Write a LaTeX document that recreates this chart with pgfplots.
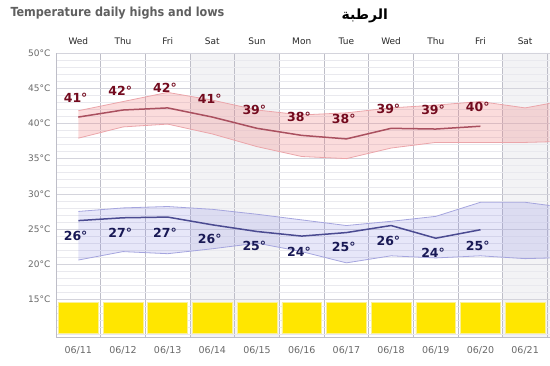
\documentclass[border=0pt]{standalone}
\usepackage{pgfplots}
\pgfplotsset{compat=1.18}
\usepgfplotslibrary{fillbetween}
\usepackage{fontspec}
\setmainfont{DejaVu Sans}
\newfontfamily\titlefont{DejaVu Sans Condensed}
\newfontfamily\arabicfont[Script=Arabic]{DejaVu Sans}
\TeXXeTstate=1
\definecolor{pinkedge}{RGB}{235,165,170}
\definecolor{pinkfill}{RGB}{240,120,120}
\definecolor{highline}{RGB}{170,80,95}
\definecolor{hightext}{RGB}{115,10,30}
\definecolor{blueedge}{RGB}{165,165,222}
\definecolor{bluefill}{RGB}{125,125,225}
\definecolor{lowline}{RGB}{75,75,145}
\definecolor{lowtext}{RGB}{25,25,85}
\definecolor{barY}{RGB}{255,230,0}
\definecolor{barEdge}{RGB}{250,240,150}
\definecolor{wkgray}{RGB}{243,243,245}
\definecolor{gridmaj}{RGB}{212,212,220}
\definecolor{gridmin}{RGB}{233,233,238}
\definecolor{sepgray}{RGB}{190,190,200}
\definecolor{labgray}{RGB}{105,105,105}
\definecolor{titlegray}{RGB}{95,95,95}
\definecolor{daytext}{RGB}{40,40,40}
\begin{document}
\begin{tikzpicture}
\begin{axis}[
  at={(0pt,0pt)}, anchor=south west,
  scale only axis, width=494pt, height=284pt,
  xmin=-0.5, xmax=10.55, ymin=9.7, ymax=50,
  axis x line=bottom, axis y line=left,
  axis line style={-, draw=sepgray},
  xtick={0,...,10},
  xticklabels={06/11,06/12,06/13,06/14,06/15,06/16,06/17,06/18,06/19,06/20,06/21},
  ytick={15,20,25,30,35,40,45,50},
  yticklabels={15°C,20°C,25°C,30°C,35°C,40°C,45°C,50°C},
  minor xtick={0.5,1.5,...,10.5}, xminorgrids, minor x grid style={sepgray, line width=0.6pt},
  minor ytick={10,...,50}, yminorgrids, minor y grid style={gridmin, line width=0.5pt},
  ymajorgrids, major y grid style={gridmaj, line width=0.6pt},
  major tick length=0pt, minor tick length=0pt,
  set layers=standard, clip mode=individual,
  /pgf/number format/assume math mode=true,
  xticklabel style={font=\fontsize{9.5}{10}\selectfont, text=labgray, yshift=-6pt},
  yticklabel style={font=\fontsize{9}{10}\selectfont, text=labgray, xshift=-2pt},
]
% weekend shading
\addplot[on layer=axis background, fill=wkgray, draw=none] coordinates {(2.5,9.7)(2.5,50)(4.5,50)(4.5,9.7)(2.5,9.7)};
\addplot[on layer=axis background, fill=wkgray, draw=none] coordinates {(9.5,9.7)(9.5,50)(10.6,50)(10.6,9.7)(9.5,9.7)};
% high band
\addplot[name path=pu, draw=pinkedge, line width=0.8pt] coordinates {(0,41.8)(1,43.1)(2,44.4)(3,43.3)(4,41.9)(5,41.2)(6,41.5)(7,42.2)(8,42.6)(9,43.1)(10,42.2)(10.6,42.9)};
\addplot[name path=pl, draw=pinkedge, line width=0.8pt] coordinates {(0,37.9)(1,39.5)(2,39.9)(3,38.5)(4,36.7)(5,35.3)(6,35.0)(7,36.5)(8,37.3)(9,37.3)(10,37.3)(10.6,37.4)};
\addplot[fill=pinkfill, fill opacity=0.26, draw=none] fill between[of=pu and pl];
\addplot[highline, line width=1.5pt] coordinates {(0,40.9)(1,41.9)(2,42.2)(3,40.9)(4,39.3)(5,38.3)(6,37.8)(7,39.3)(8,39.2)(9,39.6)};
% low band
\addplot[name path=bu, draw=blueedge, line width=0.8pt] coordinates {(0,27.5)(1,28.0)(2,28.2)(3,27.8)(4,27.1)(5,26.3)(6,25.5)(7,26.1)(8,26.8)(9,28.8)(10,28.8)(10.6,28.3)};
\addplot[name path=bl, draw=blueedge, line width=0.8pt] coordinates {(0,20.6)(1,21.8)(2,21.5)(3,22.2)(4,23.0)(5,21.8)(6,20.2)(7,21.2)(8,20.9)(9,21.2)(10,20.8)(10.6,20.9)};
\addplot[fill=bluefill, fill opacity=0.19, draw=none] fill between[of=bu and bl];
\addplot[lowline, line width=1.5pt] coordinates {(0,26.2)(1,26.6)(2,26.7)(3,25.6)(4,24.65)(5,24.0)(6,24.5)(7,25.5)(8,23.7)(9,24.9)};
% labels
\addplot[draw=none, mark=none, point meta=explicit symbolic,
  nodes near coords={\pgfplotspointmeta°},
  every node near coord/.append style={anchor=center, font=\fontsize{12.5}{13}\selectfont\bfseries, text=hightext}]
  coordinates {(-0.06,43.6)[41] (0.94,44.6)[42] (1.94,45.0)[42] (2.94,43.5)[41] (3.94,41.9)[39] (4.94,40.9)[38] (5.94,40.6)[38] (6.94,42.1)[39] (7.94,41.9)[39] (8.94,42.3)[40]};
\addplot[draw=none, mark=none, point meta=explicit symbolic,
  nodes near coords={\pgfplotspointmeta°},
  every node near coord/.append style={anchor=center, font=\fontsize{12.5}{13}\selectfont\bfseries, text=lowtext}]
  coordinates {(-0.06,24.0)[26] (0.94,24.5)[27] (1.94,24.5)[27] (2.94,23.6)[26] (3.94,22.6)[25] (4.94,21.8)[24] (5.94,22.5)[25] (6.94,23.3)[26] (7.94,21.6)[24] (8.94,22.6)[25]};
\end{axis}
\begin{axis}[
  at={(0pt,0pt)}, anchor=south west,
  scale only axis, width=494pt, height=284pt,
  xmin=-0.5, xmax=10.55, ymin=9.7, ymax=50,
  hide y axis, axis x line=top, axis line style={draw=none},
  ybar stacked, bar width=0.894,
  xtick={0,...,10},
  xticklabels={Wed,Thu,Fri,Sat,Sun,Mon,Tue,Wed,Thu,Fri,Sat},
  major tick length=0pt,
  xticklabel style={font=\fontsize{9}{10}\selectfont, text=daytext, yshift=5pt},
]
\addplot[draw=none, fill=none] coordinates {(0,10.14)(1,10.14)(2,10.14)(3,10.14)(4,10.14)(5,10.14)(6,10.14)(7,10.14)(8,10.14)(9,10.14)(10,10.14)(11,10.14)};
\addplot[fill=barY, draw=barEdge, line width=0.5pt] coordinates {(0,4.4)(1,4.4)(2,4.4)(3,4.4)(4,4.4)(5,4.4)(6,4.4)(7,4.4)(8,4.4)(9,4.4)(10,4.4)(11,4.4)};
\end{axis}
\node[anchor=west, text=titlegray, font=\titlefont\bfseries\fontsize{12.5}{13}\selectfont] at (-49pt,324pt) {Temperature daily highs and lows};
\node[anchor=center, font=\arabicfont\bfseries\fontsize{14}{15}\selectfont] at (309pt,321pt) {\beginR الرطبة\endR};
\path (-56pt,-29pt) rectangle (494pt,337pt);
\end{tikzpicture}
\end{document}
